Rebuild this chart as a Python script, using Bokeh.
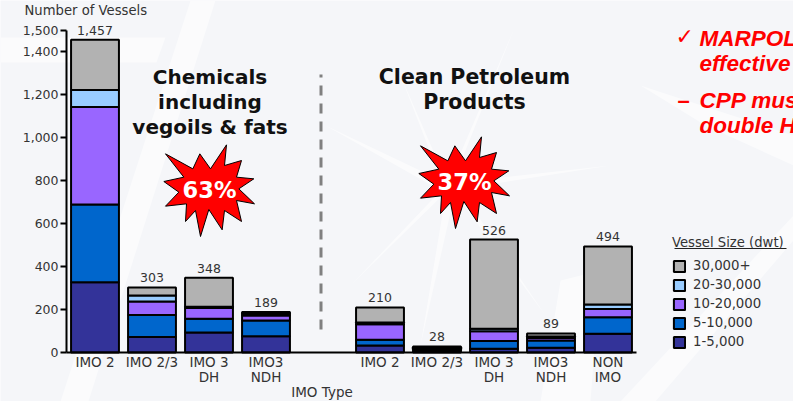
from bokeh.embed import file_html
from bokeh.resources import INLINE
from bokeh.plotting import figure
from bokeh.models import (ColumnDataSource, FixedTicker, Legend, LegendItem,
                          LinearAxis, Range1d)
from bokeh.core.properties import value

# Vessel counts per IMO type; the empty slot separates the two fleets
slots = [0, 1, 2, 3, 5, 6, 7, 8, 9]
type_labels = ["IMO 2", "IMO 2/3", "IMO 3\nDH", "IMO3\nNDH",
               "IMO 2", "IMO 2/3", "IMO 3\nDH", "IMO3\nNDH", "NON\nIMO"]
size_1_5k = [327, 72, 93, 76, 33, 8, 17, 22, 87]
size_5_10k = [362, 103, 64, 73, 26, 6, 36, 34, 77]
size_10_20k = [454, 62, 50, 23, 72, 6, 46, 12, 39]
size_20_30k = [80, 28, 6, 8, 9, 4, 12, 6, 20]
size_30k_up = [234, 38, 135, 9, 70, 4, 415, 15, 271]
totals = [1457, 303, 348, 189, 210, 28, 526, 89, 494]

size_names = ["1-5,000", "5-10,000", "10-20,000", "20-30,000", "30,000+"]
size_colors = ["#333399", "#0066cc", "#9966ff", "#99ccff", "#b2b2b2"]
y_ticks = [0, 200, 400, 600, 800, 1000, 1200, 1400, 1500]

W, H = 793, 401
X0, XSTEP = 94.5, 57.0     # pixel of slot 0 and pixels per slot
Y0, YSCALE = 352.0, 0.2147  # pixel of zero and pixels per vessel
TEXT = "#333333"
FONT = "DejaVu Sans"


def px(x):
    return (x - X0) / XSTEP


def py(y):
    return (Y0 - y) / YSCALE


p = figure(width=W, height=H, output_backend="svg", toolbar_location=None,
           x_axis_type=None, y_axis_type=None, min_border=0,
           x_range=Range1d(px(0), px(W)), y_range=Range1d(py(H), py(0)),
           background_fill_color="#f5f6f9", border_fill_color="#f5f6f9",
           outline_line_color=None)
p.grid.visible = False

# Faint slide watermark: slanted bands and a burst of rays behind the groups
wash = [
    [(190, 0), (60, 401), (88, 401), (215, 0)],
    [(0, 37), (165, 37), (156, 62), (0, 62)],
    [(447, 183), (515, 25), (455, 175)],
    [(447, 183), (400, 75), (440, 178)],
    [(447, 183), (325, 125), (440, 190)],
    [(447, 183), (350, 285), (445, 192)],
    [(447, 183), (420, 345), (455, 190)],
    [(447, 183), (545, 315), (452, 178)],
    [(447, 183), (610, 165), (450, 190)],
    [(560, 280), (540, 401), (590, 401), (600, 270)],
    [(620, 401), (793, 215), (793, 240), (655, 401)],
    [(640, 85), (793, 135), (793, 165), (705, 125)],
]
for shape in wash:
    p.patch([px(a) for a, _ in shape], [py(b) for _, b in shape],
            fill_color="#ffffff", fill_alpha=0.55, line_color=None)

# Dashed divider between the two product groups
p.line([px(320.5)] * 2, [py(329), py(74)], line_color="#808080", line_width=3,
       line_dash="10 8")

# Stacked columns
data = dict(slot=slots, total=totals, total_text=[f"{t:,}" for t in totals])
for name, col in zip(size_names, [size_1_5k, size_5_10k, size_10_20k,
                                  size_20_30k, size_30k_up]):
    data[name] = col
source = ColumnDataSource(data)
stack = p.vbar_stack(size_names, x="slot", width=0.84, fill_color=size_colors,
                     line_color="black", line_width=2, source=source)

p.text(x="slot", y="total", text="total_text", source=source, y_offset=-5,
       text_align="center", text_baseline="bottom", text_color=TEXT,
       text_font=value(FONT), text_font_size="12.5px")

# Axes sit inside the frame so the frame can cover the whole page
y_axis = LinearAxis(fixed_location=px(66), bounds=(0, 1500),
                    ticker=FixedTicker(ticks=y_ticks),
                    major_label_overrides={t: f"{t:,}" for t in y_ticks},
                    minor_tick_line_color=None, major_tick_in=0, major_tick_out=6,
                    axis_line_color="black", axis_line_width=2,
                    major_tick_line_color="black", major_tick_line_width=2,
                    major_label_text_font=FONT, major_label_text_font_size="12.5px",
                    major_label_text_color=TEXT, major_label_standoff=2)
p.add_layout(y_axis, "left")

x_axis = LinearAxis(fixed_location=0, bounds=(px(66), px(636)),
                    ticker=FixedTicker(ticks=slots),
                    major_label_overrides=dict(zip(slots, type_labels)),
                    minor_tick_line_color=None, major_tick_line_color=None,
                    major_tick_in=0, major_tick_out=0,
                    axis_line_color="black", axis_line_width=2,
                    major_label_text_font=FONT, major_label_text_font_size="13.5px",
                    major_label_text_color=TEXT, major_label_text_line_height=0.95,
                    major_label_standoff=1)
p.add_layout(x_axis, "below")

# Starbursts with the share of each group
burst = [(45, 55), (127, 100), (148, 55), (180, 100), (228, 28), (222, 90),
         (273, 75), (258, 125), (310, 130), (265, 160), (312, 205), (258, 195),
         (273, 258), (222, 225), (215, 283), (175, 222), (150, 303), (135, 225),
         (105, 258), (108, 205), (45, 212), (85, 170), (40, 138), (100, 125)]
for ox, oy in [(150, 135), (405, 127)]:
    p.patch([px(ox + a / 3) for a, _ in burst], [py(oy + b / 3) for _, b in burst],
            fill_color="#ff0000", line_color="black", line_width=1)


def caption(x, y, text, size, color=TEXT, style="normal", align="center",
            font=FONT):
    p.text([px(x)], [py(y)], text=[text], text_align=align,
           text_baseline="middle", text_color=color, text_font=value(font),
           text_font_size=size, text_font_style=style)


caption(209, 189, "63%", "22.5px", "#ffffff", "bold")
caption(464, 181, "37%", "22.5px", "#ffffff", "bold")

for y, line in zip([76, 101, 126], ["Chemicals", "including", "vegoils & fats"]):
    caption(209.5, y, line, "20px", "#111111", "bold")
for y, line in zip([76, 101], ["Clean Petroleum", "Products"]):
    caption(474, y, line, "20.5px", "#111111", "bold")

caption(24, 10, "Number of Vessels", "13.2px", align="left")
caption(321.5, 391, "IMO Type", "13.5px")

# Red bullet notes running off the right edge
for y, line in [(38, "MARPOL"), (63, "effective"), (100, "CPP must"), (125, "double H")]:
    caption(699, y, line, "22.5px", "#ff0000", "bold italic", "left", "Liberation Sans")
caption(675, 36, "\u2713", "22px", "#ff0000", "normal", "left")
caption(677, 100, "\u2013", "22px", "#ff0000", "bold", "left", "Liberation Sans")

# Size legend, largest class first
items = [LegendItem(label=n, renderers=[r]) for n, r in zip(size_names, stack)][::-1]
legend = Legend(items=items, location=(672, 52), orientation="vertical",
                background_fill_alpha=0, border_line_color=None,
                title="Vessel Size (dwt)", title_text_font=FONT,
                title_text_font_size="13.2px", title_text_color=TEXT,
                title_text_font_style="normal", title_standoff=8,
                label_text_font=FONT, label_text_font_size="13.3px",
                label_text_color=TEXT, glyph_width=14, glyph_height=14,
                label_standoff=7, spacing=4, padding=10, margin=0)
p.add_layout(legend, "center")
p.segment([px(674)], [py(248)], [px(786)], [py(248)], line_color="#222222", line_width=1)

open("out.html", "w").write(file_html(p, INLINE))
